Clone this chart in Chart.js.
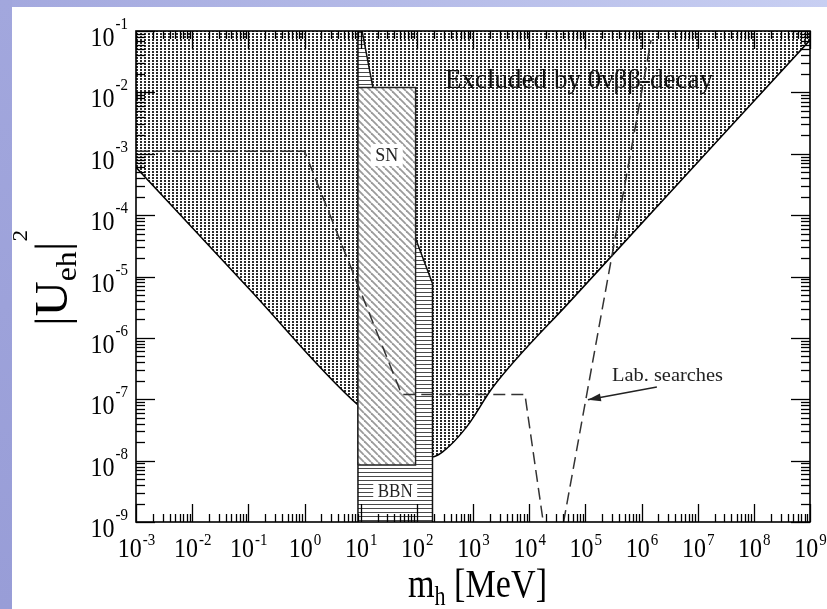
<!DOCTYPE html>
<html>
<head>
<meta charset="utf-8">
<script src="https://cdn.jsdelivr.net/npm/chart.js@4.4.0/dist/chart.umd.min.js"></script>
<style>
 html,body{margin:0;padding:0;background:#fff;overflow:hidden;}
 canvas{display:block;}
</style>
</head>
<body>
<canvas id="c" width="827" height="609"></canvas>
<script>
/* axis decades */
const xTickExps=[-3,-2,-1,0,1,2,3,4,5,6,7,8,9];
const yTickExps=[-9,-8,-7,-6,-5,-4,-3,-2,-1];
const minorMantissas=[2,3,4,5,6,7,8,9];

/* excluded by 0vbb, lower edge (MeV, |U|^2) */
const exclMass=[1e-3,0.1,8.95,190,292,771,2270,57100,1e9];
const exclU=[6.0e-4,6.5e-6,8.1e-8,1.15e-8,1.4e-8,3.55e-8,1.58e-7,4.2e-6,7.1e-2];

/* BBN region outline */
const bbnMass=[8.95,8.95,10.6,16.6,92.7,190,190];
const bbnU=[1e-9,1e-1,1e-1,1.17e-2,4.4e-5,7.7e-6,1e-9];

/* SN box */
const snMass=[8.95,8.95,95,95,8.95];
const snU=[8.5e-9,1.2e-2,1.2e-2,8.5e-9,8.5e-9];

/* lab searches, dashed */
const labMassA=[1e-3,1.0,53.7,8400,17800];
const labUA=[1.1e-3,1.1e-3,1.2e-7,1.2e-7,1e-9];
const labMassB=[41000,1.48e6];
const labUB=[1e-9,7.1e-2];

/* arrow to lab curve: tail, head */
const arrowMass=[1.88e6,1.11e5];
const arrowU=[1.58e-7,9.8e-8];

const pts=(xs,ys)=>xs.map((x,i)=>({x:x,y:ys[i]}));

/* patterns */
function tile(w,h,draw){
 const t=document.createElement('canvas');t.width=w;t.height=h;
 const g=t.getContext('2d');g.fillStyle='#fff';g.fillRect(0,0,w,h);draw(g);
 return document.getElementById('c').getContext('2d').createPattern(t,'repeat');
}
const stipple=tile(4,3,g=>{
 g.fillStyle='#2a2a2a';g.fillRect(0,0,2,2);
});
const hatchSN=tile(7,7,g=>{
 g.strokeStyle='#9a9a9a';g.lineWidth=1.8;
 for(let k=-1;k<=1;k++){g.beginPath();g.moveTo(k*7,0);g.lineTo(k*7+7,7);g.stroke();}
});
const hatchBBN=tile(4,4,g=>{g.fillStyle='#4a4a4a';g.fillRect(0,0,4,1);});

const SERIF='"Liberation Serif","DejaVu Serif",serif';
function stext(c,s,x,y,size,sy,align){
 c.save();c.translate(x,y);c.scale(1,sy);
 c.font=size+'px '+SERIF;c.textAlign=align||'left';c.textBaseline='alphabetic';
 c.fillText(s,0,0);c.restore();
}
function wid(c,s,size){c.font=size+'px '+SERIF;return c.measureText(s).width;}

const deco={
 id:'deco',
 beforeDraw(ch){
  const c=ch.ctx;
  c.save();
  c.fillStyle='#fff';c.fillRect(0,0,827,609);
  let g=c.createLinearGradient(0,0,827,0);
  g.addColorStop(0,'#a3a8de');g.addColorStop(1,'#c8cff2');
  c.fillStyle=g;c.fillRect(0,0,827,7);
  g=c.createLinearGradient(0,0,0,609);
  g.addColorStop(0,'#a2a7dd');g.addColorStop(1,'#989dd7');
  c.fillStyle=g;c.fillRect(0,0,12,609);
  c.restore();
 },
 afterDatasetsDraw(ch){
  const c=ch.ctx,a=ch.chartArea,xs=ch.scales.x,ys=ch.scales.y;
  c.save();
  c.strokeStyle='#000';c.lineWidth=1.3;
  const ln=(x1,y1,x2,y2)=>{c.beginPath();c.moveTo(x1,y1);c.lineTo(x2,y2);c.stroke();};
  xTickExps.forEach(e=>{
   [1].concat(minorMantissas).forEach(m=>{
    const v=m*Math.pow(10,e);if(v>xs.max*1.001)return;
    const p=Math.round(xs.getPixelForValue(v))+0.5,L=m===1?18:8;
    ln(p,a.bottom,p,a.bottom-L);ln(p,a.top,p,a.top+L);
   });
  });
  yTickExps.forEach(e=>{
   [1].concat(minorMantissas).forEach(m=>{
    const v=m*Math.pow(10,e);if(v>ys.max*1.001)return;
    const p=Math.round(ys.getPixelForValue(v))+0.5,L=m===1?19:9;
    ln(a.left,p,a.left+L,p);ln(a.right,p,a.right-L,p);
   });
  });
  c.lineWidth=1.6;c.strokeRect(a.left,a.top,a.right-a.left,a.bottom-a.top);

  /* region labels */
  const snX=xs.getPixelForValue(Math.sqrt(snMass[0]*snMass[2]));
  c.fillStyle='#fff';c.fillRect(snX-16,144,32,22);
  c.fillStyle='#222';stext(c,'SN',snX,161,18,1.1,'center');
  const bbX=xs.getPixelForValue(Math.sqrt(bbnMass[0]*bbnMass[5]));
  c.fillStyle='#fff';c.fillRect(bbX-22,482,44,18);
  c.fillStyle='#222';stext(c,'BBN',bbX,497,17,1.05,'center');

  /* excluded text, fitted to its width */
  const ex='Excluded by 0\u03bd\u03b2\u03b2-decay';
  c.save();c.translate(445,88);c.scale(268/wid(c,ex,24),1.12);
  c.font='24px '+SERIF;c.fillStyle='#111';c.fillText(ex,0,0);c.restore();

  /* lab searches + arrow */
  c.fillStyle='#222';
  const lb='Lab. searches';
  c.save();c.translate(612,381);c.scale(111/wid(c,lb,18),1.0);
  c.font='18px '+SERIF;c.fillText(lb,0,0);c.restore();
  const tx=xs.getPixelForValue(arrowMass[0]),ty=ys.getPixelForValue(arrowU[0]);
  const hx=xs.getPixelForValue(arrowMass[1]),hy=ys.getPixelForValue(arrowU[1]);
  c.strokeStyle='#222';c.lineWidth=1.4;ln(tx,ty,hx,hy);
  const an=Math.atan2(hy-ty,hx-tx);
  c.beginPath();c.moveTo(hx,hy);
  c.lineTo(hx-13*Math.cos(an)+4*Math.sin(an),hy-13*Math.sin(an)-4*Math.cos(an));
  c.lineTo(hx-13*Math.cos(an)-4*Math.sin(an),hy-13*Math.sin(an)+4*Math.cos(an));
  c.closePath();c.fill();

  /* tick labels */
  c.fillStyle='#000';
  xTickExps.forEach(e=>{
   const p=xs.getPixelForValue(Math.pow(10,e));
   const s=String(e),w1=wid(c,'10',24),w2=wid(c,s,15);
   const x0=p-(w1+w2)/2;
   stext(c,'10',x0,557,24,1.15);stext(c,s,x0+w1+1,545,15,1.15);
  });
  yTickExps.forEach(e=>{
   const p=ys.getPixelForValue(Math.pow(10,e));
   const s=String(e),w1=wid(c,'10',24),w2=wid(c,s,15);
   const x0=128-w1-w2-1;
   stext(c,'10',x0,p+15,24,1.1);stext(c,s,x0+w1+1,p-2,15,1.1);
  });

  /* axis titles */
  const m1=wid(c,'m',34),m2=wid(c,'h',22),m3=wid(c,' [MeV]',34);
  const kx=139/(m1+m2+m3);
  c.save();c.translate(408,597);c.scale(kx,1.2);
  c.font='34px '+SERIF;c.fillText('m',0,0);
  c.font='22px '+SERIF;c.fillText('h',m1,7);
  c.font='34px '+SERIF;c.fillText(' [MeV]',m1+m2,0);
  c.restore();

  const u1=wid(c,'|U',46),u2=wid(c,'eh',30),u3=wid(c,'|',46),u4=wid(c,'2',22);
  const ky=96/(u1+u2+u3+u4);
  c.save();c.translate(67,326);c.rotate(-Math.PI/2);c.scale(ky,1);
  c.font='46px '+SERIF;c.fillText('|U',0,0);
  c.font='30px '+SERIF;c.fillText('eh',u1,9);
  c.font='46px '+SERIF;c.fillText('|',u1+u2,0);
  c.font='22px '+SERIF;c.fillText('2',u1+u2+u3,-40);
  c.restore();
  c.restore();
 }
};

new Chart(document.getElementById('c'),{
 type:'line',
 data:{datasets:[
  {data:pts(labMassA,labUA),borderColor:'#333',borderWidth:1.5,borderDash:[12,6],fill:false,pointRadius:0,order:1},
  {data:pts(labMassB,labUB),borderColor:'#333',borderWidth:1.5,borderDash:[12,6],fill:false,pointRadius:0,order:1},
  {data:pts(snMass,snU),borderColor:'#222',borderWidth:1.4,fill:false,pointRadius:0,order:1.5},
  {data:pts(snMass.slice(0,4),snU.slice(0,4)),borderWidth:0,borderColor:'rgba(0,0,0,0)',backgroundColor:hatchSN,fill:{value:snU[0]},pointRadius:0,order:2},
  {data:pts(bbnMass,bbnU),borderColor:'#111',borderWidth:1.5,backgroundColor:hatchBBN,fill:'start',pointRadius:0,order:3},
  {data:pts(exclMass,exclU),borderColor:'#000',borderWidth:1.5,backgroundColor:stipple,fill:'end',pointRadius:0,order:4,cubicInterpolationMode:'monotone'}
 ]},
 options:{
  responsive:false,animation:false,
  layout:{padding:{top:31,right:17,left:0,bottom:0}},
  plugins:{legend:{display:false},tooltip:{enabled:false}},
  elements:{line:{tension:0}},
  scales:{
   x:{type:'logarithmic',min:1e-3,max:1e9,ticks:{display:false},grid:{display:false},border:{display:false},
      afterFit:s=>{s.height=87;}},
   y:{type:'logarithmic',min:1e-9,max:1e-1,ticks:{display:false},grid:{display:false},border:{display:false},
      afterFit:s=>{s.width=136;}}
  }
 },
 plugins:[deco]
});
</script>
</body>
</html>
